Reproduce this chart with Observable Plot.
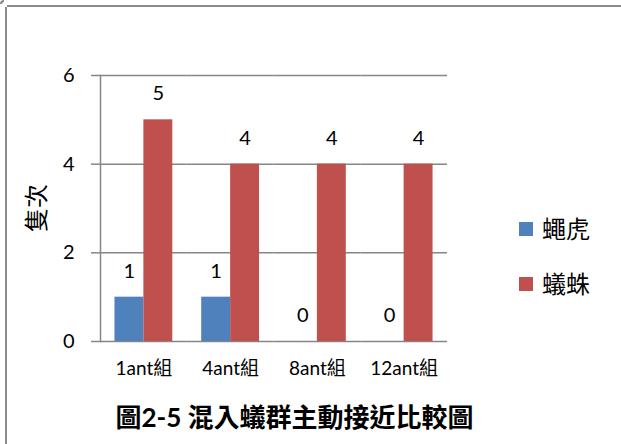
<!DOCTYPE html>
<html>
<head>
<meta charset="utf-8">
<script src="https://cdn.jsdelivr.net/npm/d3@7"></script>
<script src="https://cdn.jsdelivr.net/npm/@observablehq/plot@0.6"></script>
<style>
  html, body { margin: 0; padding: 0; background: #fff; overflow: hidden; }
  #chart { position: relative; width: 621px; height: 444px; overflow: hidden;
           font-family: Lato, "Noto Sans CJK TC", sans-serif; color: #000; }
  .edge { position: absolute; background: #8a8a8a; }
  #edge-top { left: 7px; top: 5px; width: 614px; height: 2px; }
  #edge-left { left: 5px; top: 7px; width: 2px; height: 437px; }
  #edge-corner { left: 5px; top: 5px; width: 4px; height: 4px; border-top-left-radius: 4px;
                 border-top: 2px solid #8a8a8a; border-left: 2px solid #8a8a8a; box-sizing: border-box; }
  #plot { position: absolute; left: 0; top: 0; }
  #ylabel { position: absolute; left: 36px; top: 208px; font-size: 24px; white-space: nowrap;
            transform: translate(-50%, -50%) rotate(-90deg); line-height: 1; }
  #title { position: absolute; left: 0; width: 589px; top: 402px; text-align: center;
           font-size: 26px; font-weight: bold; line-height: 31px; white-space: nowrap; }
  .key { position: absolute; left: 519px; display: flex; align-items: center; font-size: 24px; line-height: 1; }
  .key span.sw { width: 14px; height: 14px; margin-right: 9px; display: inline-block; }
</style>
</head>
<body>
<div id="chart">
  <div class="edge" id="edge-top"></div>
  <div class="edge" id="edge-left"></div>
  <div id="edge-corner"></div>
  <div id="plot"></div>
  <div id="ylabel"></div>
  <div id="legend"></div>
  <div id="title"></div>
</div>
<script>
// Categories and series
const categories = ["1ant組", "4ant組", "8ant組", "12ant組"];
const seriesNames = ["蠅虎", "蟻蛛"];
const jumpingSpider = [1, 1, 0, 0];   // 蠅虎
const antMimicSpider = [5, 4, 4, 4];  // 蟻蛛
const yTicks = [0, 2, 4, 6];
const seriesColors = ["#4F81BD", "#C0504D"];
const yLabel = "隻次";
const titleText = "圖2-5 混入蟻群主動接近比較圖";

const rows = categories.flatMap((c, i) => [
  {group: c, series: seriesNames[0], value: jumpingSpider[i]},
  {group: c, series: seriesNames[1], value: antMimicSpider[i]}
]);

const grid = "#868686";

const chart = Plot.plot({
  width: 621,
  height: 390,
  marginTop: 75,
  marginBottom: 49,
  marginLeft: 100,
  marginRight: 174,
  style: {fontFamily: 'Lato, "Noto Sans CJK TC", sans-serif', fontSize: "20px", color: "#000", background: "transparent"},
  fx: {domain: categories, padding: 0, round: false, label: null},
  x: {domain: seriesNames, paddingInner: 0, paddingOuter: 0.5, round: false, axis: null},
  y: {domain: [0, 6], label: null},
  color: {domain: seriesNames, range: seriesColors},
  marks: [
    Plot.ruleY(yTicks, {stroke: grid, strokeWidth: 1.5}),
    Plot.barY(rows, {fx: "group", x: "series", y: "value", fill: "series"}),
    Plot.text(rows, {fx: "group", x: "series", y: "value", text: d => String(d.value),
                     dy: -26, fontSize: 20, fill: "#000"}),
    Plot.frame({anchor: "left", facetAnchor: "left", stroke: grid, strokeWidth: 1.5}),
    Plot.axisY({ticks: yTicks, tickFormat: d => String(d), tickSize: 9, tickPadding: 17,
                stroke: grid, strokeWidth: 1.5, fill: "#000", fontSize: 20, label: null}),
    Plot.axisFx({anchor: "bottom", tickSize: 0, tickPadding: 20, fontSize: 19, fill: "#000", label: null})
  ]
});
document.getElementById("plot").append(chart);

document.getElementById("ylabel").textContent = yLabel;
document.getElementById("title").textContent = titleText;

// Legend entries, top to bottom
const legend = document.getElementById("legend");
const legendCenters = [229, 284];
seriesNames.forEach((name, i) => {
  const row = document.createElement("div");
  row.className = "key";
  row.style.top = (legendCenters[i] - 13) + "px";
  row.style.height = "26px";
  const sw = document.createElement("span");
  sw.className = "sw";
  sw.style.background = seriesColors[i];
  const label = document.createElement("span");
  label.textContent = name;
  row.append(sw, label);
  legend.append(row);
});
</script>
</body>
</html>
